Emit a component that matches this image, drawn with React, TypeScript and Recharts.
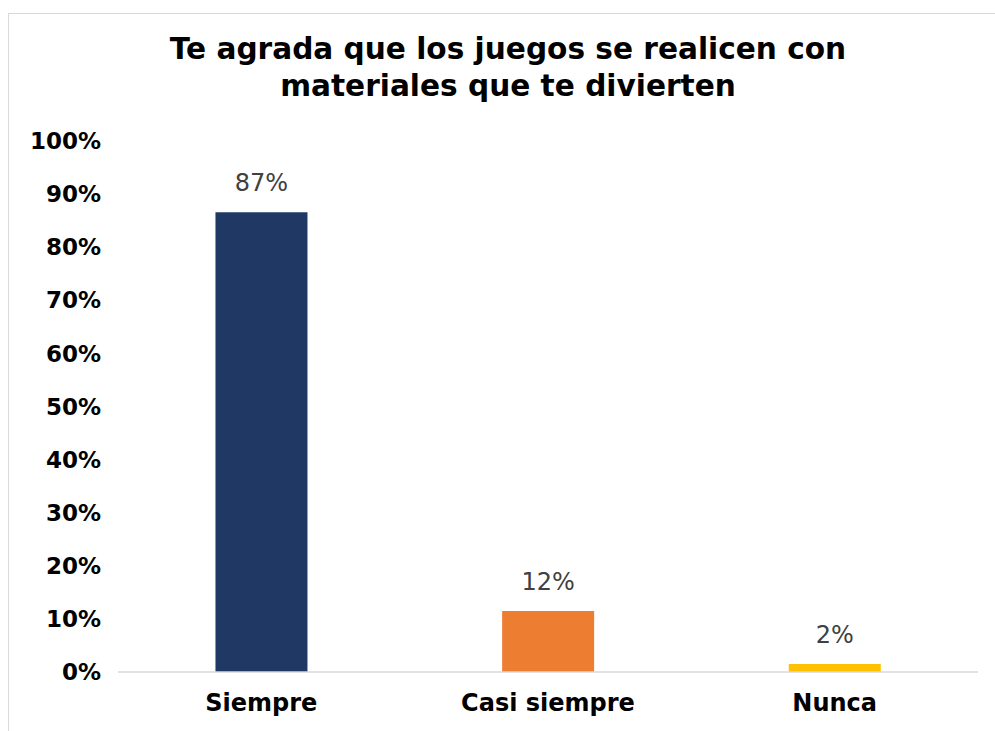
import { BarChart, Bar, XAxis, YAxis, LabelList, Cell } from 'recharts'

const categories = ['Siempre', 'Casi siempre', 'Nunca']
const values = [86.6, 11.5, 1.5]
const barColors = ['#203864', '#ED7D31', '#FFC000']
const yTicks = [0, 10, 20, 30, 40, 50, 60, 70, 80, 90, 100]

const data = categories.map((name, i) => ({ name, value: values[i] }))

const font = '"DejaVu Sans", sans-serif'

export default function App() {
  return (
    <div style={{ position: 'relative', width: 995, height: 731, overflow: 'hidden', fontFamily: font }}>
      <style>{'body{margin:0;overflow:hidden}'}</style>
      <div
        style={{
          position: 'absolute',
          left: 8,
          top: 13,
          width: 1100,
          height: 1100,
          borderLeft: '1px solid #d9d9d9',
          borderTop: '1px solid #d9d9d9',
        }}
      />
      <div
        style={{
          position: 'absolute',
          left: 8,
          top: 31,
          width: 1000,
          textAlign: 'center',
          fontWeight: 'bold',
          fontSize: 29.6,
          lineHeight: '37px',
          color: '#000',
        }}
      >
        Te agrada que los juegos se realicen con
        <br />
        materiales que te divierten
      </div>
      <div style={{ position: 'absolute', left: 0, top: 0 }}>
        <BarChart
          width={995}
          height={731}
          data={data}
          margin={{ top: 141, right: 17, left: 18, bottom: 29 }}
          barCategoryGap="34%"
        >
          <XAxis
            dataKey="name"
            height={30}
            tickLine={false}
            tickSize={0}
            tickMargin={22}
            axisLine={{ stroke: '#d9d9d9', strokeWidth: 1.5 }}
            tick={{ fontSize: 24, fontWeight: 'bold', fill: '#000', fontFamily: font }}
          />
          <YAxis
            width={100}
            domain={[0, 100]}
            ticks={yTicks}
            interval={0}
            tickFormatter={(v: number) => `${v}%`}
            axisLine={false}
            tickLine={false}
            tickSize={0}
            tickMargin={17}
            tick={{ fontSize: 23, fontWeight: 'bold', fill: '#000', fontFamily: font }}
          />
          <Bar dataKey="value" isAnimationActive={false}>
            {data.map((d, i) => (
              <Cell key={d.name} fill={barColors[i]} />
            ))}
            <LabelList
              dataKey="value"
              position="top"
              offset={21}
              formatter={(v: number) => `${Math.round(v)}%`}
              style={{ fontSize: 24, fill: '#404040', fontFamily: font }}
            />
          </Bar>
        </BarChart>
      </div>
    </div>
  )
}
